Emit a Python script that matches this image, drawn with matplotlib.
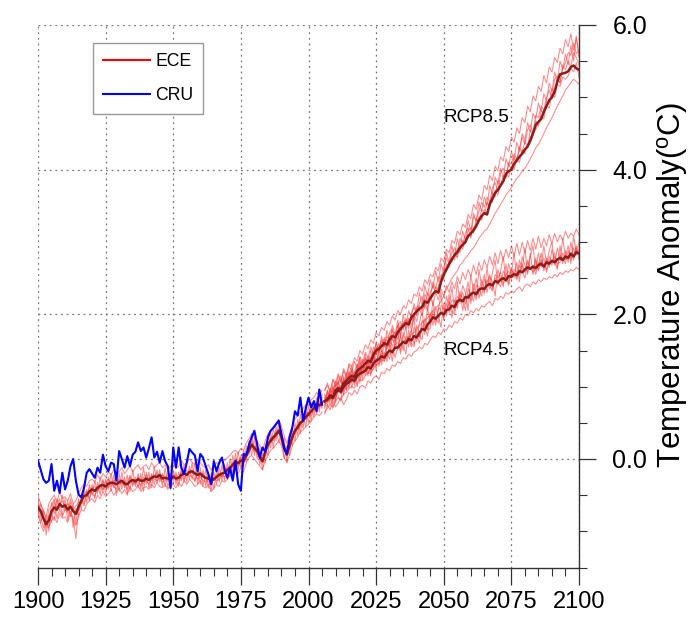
import numpy as np
import matplotlib
matplotlib.use("Agg")
import matplotlib.pyplot as plt
from matplotlib.ticker import MultipleLocator, FormatStrFormatter
from matplotlib.lines import Line2D

plt.rcParams['font.family'] = ['Liberation Sans', 'DejaVu Sans']
plt.rcParams['mathtext.fontset'] = 'custom'
plt.rcParams['mathtext.rm'] = 'Liberation Sans'

# ---------------- data ----------------
hist_years = list(range(1900, 2006))
cru_years = list(range(1900, 2006))
fut_years = list(range(2006, 2101))

cru = [-0.02,-0.15,-0.28,-0.33,-0.30,-0.07,-0.44,-0.30,-0.47,-0.19,
       -0.42,-0.30,-0.10,0.00,-0.30,-0.49,-0.53,-0.40,-0.19,-0.14,
       -0.20,-0.26,-0.12,-0.19,0.06,-0.10,-0.17,-0.05,-0.07,-0.30,
       0.11,0.00,-0.12,0.04,-0.10,0.06,0.10,0.23,0.11,0.16,
       0.02,0.15,0.30,0.02,0.10,-0.05,0.11,-0.03,-0.10,-0.40,
       0.16,-0.12,0.16,-0.12,-0.21,-0.05,0.14,0.09,0.05,-0.17,
       0.07,0.02,-0.10,-0.21,-0.35,-0.03,-0.17,-0.05,0.02,-0.15,
       -0.26,-0.12,-0.30,-0.03,-0.35,-0.44,0.07,0.05,0.20,0.30,
       0.39,0.20,0.02,0.16,0.10,0.30,0.39,0.43,0.48,0.53,
       0.34,0.15,0.07,0.30,0.43,0.66,0.60,0.85,0.53,0.70,
       0.85,0.71,0.80,0.66,0.96,0.75]

ece_hist_mean = [-0.67,-0.72,-0.82,-0.90,-0.85,-0.72,-0.67,-0.70,-0.62,-0.66,
       -0.64,-0.70,-0.66,-0.72,-0.76,-0.66,-0.58,-0.51,-0.50,-0.45,
       -0.42,-0.44,-0.40,-0.37,-0.36,-0.38,-0.34,-0.33,-0.33,-0.35,
       -0.32,-0.30,-0.34,-0.35,-0.31,-0.29,-0.31,-0.28,-0.30,-0.30,
       -0.27,-0.29,-0.26,-0.24,-0.25,-0.22,-0.27,-0.26,-0.27,-0.28,
       -0.24,-0.27,-0.26,-0.22,-0.20,-0.22,-0.18,-0.17,-0.20,-0.22,
       -0.20,-0.24,-0.26,-0.27,-0.30,-0.28,-0.25,-0.22,-0.20,-0.19,
       -0.15,-0.12,-0.08,-0.03,-0.06,-0.02,-0.03,0.05,0.12,0.20,
       0.15,0.11,0.03,-0.03,0.10,0.20,0.25,0.30,0.34,0.39,
       0.30,0.15,0.06,0.18,0.30,0.39,0.44,0.50,0.53,0.58,
       0.62,0.66,0.70,0.76,0.74,0.78]

ece_hist_m1 = [-0.55,-0.80,-0.95,-0.78,-1.00,-0.60,-0.75,-0.55,-0.70,-0.50,
       -0.72,-0.58,-0.80,-0.62,-0.90,-0.55,-0.70,-0.40,-0.60,-0.35,
       -0.50,-0.30,-0.48,-0.25,-0.45,-0.28,-0.42,-0.20,-0.40,-0.25,
       -0.45,-0.18,-0.40,-0.22,-0.45,-0.15,-0.38,-0.20,-0.42,-0.12,
       -0.35,-0.18,-0.40,-0.10,-0.33,-0.15,-0.38,-0.12,-0.40,-0.20,
       -0.15,-0.35,-0.18,-0.30,-0.08,-0.32,-0.10,-0.28,-0.05,-0.35,
       -0.12,-0.38,-0.15,-0.40,-0.20,-0.42,-0.15,-0.32,-0.08,-0.30,
       -0.05,-0.25,0.05,-0.15,0.10,-0.12,0.12,-0.05,0.25,0.05,
       0.30,0.00,0.15,-0.15,0.20,0.05,0.38,0.15,0.45,0.22,
       0.40,0.00,0.18,0.05,0.42,0.25,0.55,0.35,0.62,0.45,
       0.75,0.52,0.80,0.62,0.88,0.70]
ece_hist_m2 = [-0.80,-0.62,-0.75,-1.05,-0.78,-0.88,-0.58,-0.82,-0.70,-0.78,
       -0.55,-0.85,-0.60,-0.95,-0.68,-0.78,-0.50,-0.62,-0.42,-0.58,
       -0.35,-0.55,-0.32,-0.50,-0.28,-0.48,-0.25,-0.45,-0.22,-0.50,
       -0.20,-0.42,-0.25,-0.48,-0.22,-0.38,-0.25,-0.40,-0.20,-0.45,
       -0.18,-0.40,-0.20,-0.35,-0.15,-0.32,-0.20,-0.38,-0.15,-0.42,
       -0.30,-0.18,-0.38,-0.12,-0.32,-0.15,-0.28,-0.05,-0.32,-0.10,
       -0.35,-0.15,-0.38,-0.20,-0.45,-0.18,-0.35,-0.12,-0.30,-0.08,
       -0.28,0.00,-0.20,0.08,-0.15,0.05,-0.10,0.18,0.05,0.35,
       0.05,0.25,-0.08,0.08,-0.05,0.32,0.15,0.42,0.25,0.50,
       0.20,0.30,-0.05,0.30,0.18,0.50,0.32,0.62,0.42,0.70,
       0.50,0.78,0.58,0.85,0.65,0.90]
ece_hist_m3 = [-0.70,-0.88,-0.70,-0.85,-0.92,-0.78,-0.85,-0.62,-0.55,-0.80,
       -0.70,-0.62,-0.78,-0.80,-1.10,-0.70,-0.55,-0.65,-0.50,-0.40,
       -0.48,-0.52,-0.38,-0.42,-0.30,-0.40,-0.38,-0.30,-0.38,-0.42,
       -0.28,-0.35,-0.30,-0.42,-0.28,-0.35,-0.28,-0.32,-0.36,-0.25,
       -0.30,-0.35,-0.22,-0.28,-0.30,-0.25,-0.32,-0.30,-0.22,-0.30,
       -0.28,-0.22,-0.30,-0.25,-0.28,-0.20,-0.22,-0.25,-0.30,-0.18,
       -0.25,-0.30,-0.32,-0.22,-0.35,-0.25,-0.30,-0.28,-0.22,-0.25,
       -0.18,-0.10,-0.12,0.00,-0.10,-0.05,0.00,0.10,0.15,0.15,
       0.18,0.15,0.00,-0.05,0.12,0.15,0.30,0.25,0.38,0.35,
       0.32,0.10,0.12,0.22,0.28,0.42,0.40,0.45,0.58,0.55,
       0.60,0.68,0.65,0.80,0.70,0.85]
ece_hist_m4 = [-0.60,-0.70,-0.85,-0.95,-0.70,-0.65,-0.55,-0.72,-0.60,-0.58,
       -0.68,-0.75,-0.55,-0.70,-0.65,-0.60,-0.62,-0.48,-0.45,-0.55,
       -0.40,-0.38,-0.45,-0.35,-0.42,-0.32,-0.28,-0.38,-0.30,-0.28,
       -0.35,-0.30,-0.38,-0.30,-0.25,-0.32,-0.35,-0.25,-0.28,-0.35,
       -0.22,-0.25,-0.30,-0.22,-0.20,-0.28,-0.22,-0.25,-0.30,-0.22,
       -0.20,-0.30,-0.25,-0.18,-0.25,-0.22,-0.15,-0.20,-0.18,-0.28,
       -0.22,-0.20,-0.28,-0.32,-0.25,-0.30,-0.22,-0.20,-0.25,-0.15,
       -0.12,-0.15,-0.05,-0.08,-0.02,0.02,-0.05,0.02,0.15,0.25,
       0.10,0.15,0.08,0.00,0.05,0.22,0.28,0.32,0.30,0.42,
       0.35,0.20,0.10,0.15,0.35,0.35,0.48,0.52,0.50,0.62,
       0.65,0.60,0.75,0.72,0.80,0.72]
ece_hist_m5 = [-0.78,-0.90,-1.00,-0.88,-0.95,-0.85,-0.80,-0.88,-0.75,-0.82,
       -0.80,-0.88,-0.72,-0.85,-0.92,-0.80,-0.70,-0.72,-0.62,-0.58,
       -0.55,-0.60,-0.50,-0.55,-0.45,-0.52,-0.48,-0.42,-0.50,-0.45,
       -0.40,-0.48,-0.42,-0.50,-0.38,-0.45,-0.42,-0.36,-0.45,-0.40,
       -0.38,-0.42,-0.35,-0.40,-0.32,-0.38,-0.40,-0.35,-0.42,-0.36,
       -0.35,-0.40,-0.32,-0.38,-0.30,-0.35,-0.28,-0.32,-0.38,-0.35,
       -0.30,-0.38,-0.40,-0.35,-0.45,-0.40,-0.35,-0.38,-0.30,-0.32,
       -0.28,-0.22,-0.25,-0.15,-0.20,-0.12,-0.18,-0.05,0.02,0.05,
       0.00,-0.05,-0.10,-0.15,-0.02,0.05,0.12,0.15,0.20,0.25,
       0.18,0.02,-0.05,0.05,0.18,0.25,0.30,0.38,0.40,0.45,
       0.48,0.52,0.58,0.62,0.60,0.65]
ece_hist_m6 = [-0.50,-0.62,-0.72,-0.80,-0.62,-0.55,-0.50,-0.60,-0.45,-0.55,
       -0.52,-0.58,-0.48,-0.62,-0.58,-0.48,-0.40,-0.35,-0.38,-0.30,
       -0.28,-0.32,-0.22,-0.28,-0.20,-0.25,-0.18,-0.22,-0.15,-0.22,
       -0.18,-0.12,-0.20,-0.15,-0.10,-0.18,-0.12,-0.08,-0.15,-0.10,
       -0.08,-0.15,-0.05,-0.12,-0.08,-0.05,-0.12,-0.08,-0.15,-0.10,
       -0.05,-0.12,-0.10,-0.02,-0.08,-0.05,0.00,-0.05,-0.08,-0.02,
       -0.05,-0.10,-0.12,-0.08,-0.15,-0.10,-0.05,-0.08,0.00,-0.02,
       0.02,0.05,0.10,0.12,0.08,0.15,0.12,0.22,0.28,0.35,
       0.30,0.25,0.18,0.12,0.25,0.35,0.40,0.45,0.50,0.55,
       0.45,0.32,0.22,0.35,0.45,0.55,0.60,0.65,0.70,0.75,
       0.78,0.82,0.85,0.92,0.88,0.95]

rcp45_mean = [0.80,0.82,0.86,0.84,0.92,0.95,0.93,1.00,1.04,1.06,
       1.10,1.08,1.15,1.18,1.20,1.22,1.27,1.25,1.32,1.36,
       1.38,1.42,1.40,1.46,1.50,1.48,1.54,1.54,1.58,1.62,
       1.60,1.66,1.64,1.70,1.68,1.74,1.80,1.78,1.86,1.90,
       1.96,1.94,1.98,2.02,2.00,2.06,2.07,2.12,2.10,2.18,
       2.20,2.18,2.24,2.23,2.28,2.30,2.28,2.34,2.36,2.35,
       2.40,2.42,2.40,2.46,2.44,2.48,2.50,2.47,2.53,2.52,
       2.56,2.54,2.60,2.58,2.62,2.65,2.63,2.66,2.64,2.68,
       2.70,2.66,2.72,2.70,2.74,2.72,2.76,2.78,2.75,2.80,
       2.78,2.84,2.80,2.86,2.84]
rcp45_m1 = [0.70,0.92,0.80,1.02,0.78,1.05,1.10,0.88,1.15,0.98,
       1.25,1.02,1.12,1.35,1.10,1.40,1.18,1.30,1.48,1.22,
       1.55,1.35,1.62,1.45,1.38,1.70,1.52,1.78,1.45,1.68,
       1.82,1.55,1.75,1.95,1.62,1.88,2.05,1.72,2.10,1.85,
       2.20,1.90,2.05,2.30,1.92,2.25,2.10,2.38,2.05,2.45,
       2.15,2.40,2.30,2.05,2.55,2.32,2.20,2.62,2.40,2.28,
       2.65,2.35,2.58,2.75,2.40,2.60,2.80,2.45,2.70,2.55,
       2.85,2.50,2.75,2.62,2.92,2.55,2.80,2.95,2.60,2.85,
       2.65,2.95,2.70,2.88,3.00,2.68,2.92,2.75,3.05,2.80,
       2.95,2.70,3.08,2.85,3.00]
rcp45_m2 = [0.85,0.72,0.95,0.90,1.05,0.85,0.80,1.12,0.95,1.20,
       0.98,1.15,1.30,1.05,1.28,1.15,1.38,1.20,1.25,1.50,
       1.28,1.52,1.40,1.60,1.55,1.35,1.65,1.50,1.72,1.58,
       1.45,1.78,1.60,1.55,1.85,1.70,1.65,1.95,1.80,2.02,
       1.85,2.10,1.98,1.82,2.15,2.00,2.28,1.95,2.20,2.12,
       2.32,2.05,2.25,2.45,2.15,2.35,2.50,2.22,2.38,2.55,
       2.30,2.52,2.45,2.25,2.62,2.50,2.38,2.70,2.42,2.65,
       2.50,2.72,2.45,2.80,2.68,2.58,2.85,2.55,2.75,2.62,
       2.85,2.60,2.78,2.65,2.90,2.72,2.62,2.95,2.70,2.88,
       2.72,3.00,2.78,2.95,2.75]
rcp45_m3 = [0.78,0.95,0.75,0.82,1.00,1.08,0.90,0.98,1.10,1.15,
       1.05,1.20,1.00,1.22,1.35,1.25,1.15,1.40,1.28,1.32,
       1.45,1.30,1.48,1.35,1.62,1.58,1.40,1.55,1.68,1.50,
       1.70,1.62,1.80,1.58,1.72,1.60,1.85,1.82,1.70,1.98,
       2.00,1.85,2.10,2.05,1.95,2.15,2.02,2.20,2.18,2.08,
       2.28,2.22,2.05,2.35,2.30,2.18,2.40,2.38,2.25,2.48,
       2.42,2.55,2.35,2.50,2.45,2.38,2.60,2.52,2.40,2.62,
       2.55,2.48,2.68,2.60,2.50,2.72,2.65,2.58,2.78,2.60,
       2.75,2.68,2.62,2.80,2.72,2.85,2.65,2.82,2.78,2.70,
       2.88,2.75,2.92,2.82,2.90]
rcp45_m4 = [0.88,0.80,0.90,0.70,0.85,1.00,0.92,1.05,0.95,1.02,
       1.18,1.10,1.22,1.12,1.30,1.25,1.35,1.15,1.42,1.38,
       1.32,1.48,1.35,1.55,1.60,1.45,1.58,1.62,1.50,1.75,
       1.62,1.70,1.55,1.82,1.75,1.68,1.92,1.85,1.78,1.80,
       2.05,1.95,1.88,2.12,2.08,1.98,2.18,2.05,2.00,2.25,
       2.20,2.30,2.15,2.28,2.20,2.42,2.25,2.30,2.48,2.32,
       2.48,2.40,2.32,2.55,2.50,2.58,2.42,2.55,2.60,2.48,
       2.62,2.58,2.55,2.70,2.58,2.75,2.62,2.68,2.55,2.72,
       2.68,2.78,2.58,2.75,2.68,2.80,2.70,2.72,2.85,2.75,
       2.80,2.85,2.75,2.92,2.82]
rcp45_m5 = [0.62,0.75,0.68,0.80,0.72,0.78,0.85,0.75,0.82,0.92,
       0.88,0.95,0.90,1.00,1.02,0.98,1.08,1.05,1.12,1.15,
       1.10,1.20,1.18,1.25,1.22,1.30,1.28,1.35,1.32,1.40,
       1.38,1.45,1.42,1.48,1.50,1.55,1.52,1.60,1.58,1.65,
       1.70,1.68,1.75,1.72,1.80,1.78,1.85,1.82,1.90,1.88,
       1.95,1.92,2.00,1.98,2.05,2.02,2.08,2.05,2.12,2.10,
       2.15,2.18,2.12,2.22,2.20,2.25,2.22,2.30,2.28,2.32,
       2.30,2.35,2.38,2.32,2.40,2.42,2.38,2.45,2.42,2.48,
       2.45,2.50,2.48,2.52,2.50,2.55,2.52,2.58,2.55,2.60,
       2.58,2.62,2.60,2.65,2.62]
rcp45_m6 = [0.95,1.05,0.92,1.10,1.00,1.15,1.05,1.22,1.12,1.30,
       1.20,1.35,1.25,1.42,1.32,1.48,1.40,1.55,1.45,1.60,
       1.52,1.65,1.55,1.70,1.62,1.78,1.68,1.85,1.72,1.90,
       1.80,1.95,1.85,2.00,1.90,2.08,1.98,2.15,2.05,2.25,
       2.12,2.30,2.20,2.35,2.25,2.40,2.30,2.45,2.35,2.52,
       2.42,2.58,2.48,2.62,2.52,2.68,2.55,2.72,2.60,2.75,
       2.65,2.80,2.68,2.85,2.70,2.88,2.75,2.90,2.78,2.95,
       2.80,2.98,2.82,3.00,2.85,3.02,2.88,3.05,2.90,3.08,
       2.92,3.05,2.95,3.10,2.98,3.12,3.00,3.10,3.02,3.15,
       3.05,3.12,3.08,3.18,3.10]

rcp85_mean = [0.80,0.83,0.88,0.86,0.95,0.98,0.96,1.05,1.08,1.12,
       1.15,1.13,1.22,1.25,1.28,1.32,1.36,1.34,1.44,1.50,
       1.52,1.56,1.60,1.58,1.65,1.70,1.68,1.75,1.80,1.84,
       1.88,1.86,1.95,2.00,2.04,2.08,2.10,2.18,2.16,2.22,
       2.28,2.32,2.30,2.45,2.55,2.62,2.70,2.76,2.82,2.86,
       2.92,2.96,3.00,3.08,3.12,3.16,3.22,3.30,3.36,3.40,
       3.38,3.52,3.60,3.68,3.72,3.78,3.84,3.94,3.98,4.00,
       4.08,4.13,4.18,4.22,4.28,4.32,4.40,4.50,4.62,4.66,
       4.70,4.80,4.88,4.96,5.00,5.08,5.22,5.32,5.33,5.34,
       5.36,5.42,5.44,5.40,5.38]
rcp85_m1 = [0.72,0.95,0.85,1.00,0.82,1.08,1.15,0.92,1.20,1.05,
       1.30,1.08,1.20,1.40,1.18,1.45,1.28,1.50,1.38,1.62,
       1.45,1.70,1.55,1.78,1.62,1.85,1.72,1.92,1.68,2.00,
       1.82,2.05,1.95,2.15,2.02,2.30,2.12,2.40,2.25,2.48,
       2.35,2.60,2.45,2.70,2.58,2.85,2.72,2.95,2.80,3.05,
       2.90,3.15,3.02,3.30,3.15,3.40,3.28,3.55,3.42,3.62,
       3.50,3.78,3.65,3.90,3.80,4.02,3.88,4.15,4.05,4.25,
       4.12,4.38,4.25,4.50,4.40,4.65,4.52,4.78,4.70,4.92,
       4.80,5.05,4.95,5.20,5.08,5.35,5.22,5.50,5.38,5.60,
       5.45,5.72,5.50,5.85,5.55]
rcp85_m2 = [0.90,0.78,0.98,0.92,1.08,0.95,0.90,1.15,1.02,1.22,
       1.08,1.20,1.32,1.18,1.38,1.25,1.42,1.30,1.55,1.45,
       1.60,1.48,1.68,1.55,1.75,1.80,1.62,1.85,1.90,1.78,
       1.95,1.85,2.02,2.10,1.98,2.15,2.25,2.08,2.30,2.22,
       2.45,2.35,2.52,2.48,2.65,2.78,2.70,2.85,2.92,2.80,
       3.05,2.98,3.12,3.20,3.05,3.35,3.30,3.42,3.55,3.48,
       3.62,3.55,3.75,3.82,3.70,3.95,4.02,3.90,4.10,4.08,
       4.22,4.15,4.30,4.45,4.35,4.55,4.62,4.50,4.75,4.72,
       4.88,4.82,5.00,5.10,4.98,5.25,5.30,5.20,5.45,5.38,
       5.50,5.42,5.62,5.55,5.45]
rcp85_m3 = [0.75,0.88,0.92,0.80,1.02,1.05,0.98,1.00,1.12,1.08,
       1.22,1.15,1.12,1.30,1.35,1.38,1.32,1.40,1.48,1.45,
       1.50,1.62,1.58,1.65,1.55,1.72,1.75,1.65,1.82,1.88,
       1.85,1.92,1.80,1.98,2.08,2.05,2.12,2.22,2.10,2.20,
       2.25,2.38,2.28,2.42,2.55,2.60,2.68,2.72,2.85,2.78,
       2.95,2.90,3.05,3.10,3.08,3.20,3.25,3.35,3.30,3.45,
       3.40,3.58,3.55,3.72,3.65,3.80,3.82,3.95,3.90,4.05,
       4.00,4.15,4.10,4.28,4.22,4.35,4.45,4.52,4.55,4.65,
       4.75,4.70,4.90,4.85,5.05,5.00,5.18,5.15,5.28,5.25,
       5.30,5.40,5.35,5.48,5.28]
rcp85_m4 = [0.85,0.80,0.82,0.95,0.88,0.92,1.02,1.10,0.98,1.18,
       1.12,1.05,1.25,1.20,1.28,1.22,1.35,1.40,1.35,1.55,
       1.48,1.58,1.65,1.52,1.70,1.65,1.62,1.78,1.85,1.82,
       1.92,1.80,2.00,1.92,2.10,2.12,2.05,2.28,2.20,2.30,
       2.40,2.30,2.38,2.55,2.48,2.70,2.65,2.80,2.75,2.92,
       2.85,3.02,2.98,3.15,3.20,3.12,3.32,3.28,3.45,3.38,
       3.55,3.48,3.68,3.62,3.85,3.78,3.92,3.88,4.08,4.00,
       4.18,4.10,4.32,4.22,4.40,4.30,4.55,4.48,4.68,4.60,
       4.82,4.78,4.95,4.92,5.12,5.05,5.25,5.20,5.40,5.48,
       5.62,5.58,5.75,5.60,5.65]
rcp85_m5 = [0.65,0.70,0.75,0.72,0.80,0.85,0.82,0.90,0.92,0.98,
       1.00,0.98,1.05,1.10,1.08,1.15,1.20,1.18,1.25,1.30,
       1.32,1.38,1.35,1.42,1.45,1.48,1.52,1.55,1.58,1.62,
       1.65,1.68,1.72,1.75,1.80,1.85,1.88,1.92,1.95,2.00,
       2.05,2.10,2.12,2.18,2.25,2.35,2.42,2.50,2.55,2.60,
       2.68,2.72,2.78,2.82,2.88,2.92,2.98,3.05,3.10,3.15,
       3.18,3.25,3.32,3.40,3.45,3.52,3.58,3.65,3.70,3.75,
       3.82,3.88,3.92,3.98,4.02,4.08,4.15,4.22,4.30,4.35,
       4.42,4.50,4.58,4.65,4.72,4.80,4.88,4.95,5.02,5.10,
       5.15,5.20,5.25,5.22,5.18]
rcp85_m6 = [0.95,1.02,0.92,1.10,1.05,1.18,1.08,1.25,1.15,1.32,
       1.28,1.40,1.35,1.50,1.45,1.58,1.52,1.65,1.60,1.75,
       1.70,1.82,1.78,1.90,1.85,1.98,1.92,2.05,2.00,2.12,
       2.08,2.20,2.15,2.28,2.25,2.38,2.32,2.48,2.42,2.55,
       2.52,2.65,2.60,2.78,2.72,2.90,2.85,3.02,2.98,3.15,
       3.10,3.25,3.20,3.38,3.32,3.52,3.45,3.65,3.58,3.78,
       3.72,3.92,3.85,4.05,3.98,4.18,4.12,4.32,4.25,4.45,
       4.38,4.58,4.50,4.72,4.65,4.88,4.80,5.02,4.95,5.15,
       5.08,5.30,5.20,5.42,5.35,5.55,5.48,5.68,5.60,5.80,
       5.70,5.88,5.65,5.82,5.60]

x_ticks = [1900, 1925, 1950, 1975, 2000, 2025, 2050, 2075, 2100]
y_ticks = [0.0, 2.0, 4.0, 6.0]
legend_labels = ["ECE", "CRU"]
scenario_labels = ["RCP8.5", "RCP4.5"]
ylabel_text = "Temperature Anomaly($\\mathregular{^{o}}$C)"

hist_members = [ece_hist_m1, ece_hist_m2, ece_hist_m3, ece_hist_m4, ece_hist_m5, ece_hist_m6]
fut_members = [rcp45_m1, rcp45_m2, rcp45_m3, rcp45_m4, rcp45_m5, rcp45_m6,
               rcp85_m1, rcp85_m2, rcp85_m3, rcp85_m4, rcp85_m5, rcp85_m6]

# ---------------- figure ----------------
fig = plt.figure(figsize=(6.93, 6.19), dpi=100)
ax = fig.add_axes([38/693, 1-567.5/619, (579-38)/693, (567.5-25)/619])

member_color = '#ff3c3c'
mean_color = '#8b1c1c'

for m in hist_members:
    assert len(m) == len(hist_years)
    ax.plot(hist_years, m, color=member_color, lw=0.75, alpha=0.6, zorder=2)
for m in fut_members:
    assert len(m) == len(fut_years)
    ax.plot(fut_years, m, color=member_color, lw=0.75, alpha=0.6, zorder=2)

ax.plot(hist_years, ece_hist_mean, color=mean_color, lw=1.8, zorder=3)
ax.plot(fut_years, rcp45_mean, color=mean_color, lw=1.8, zorder=3)
ax.plot(fut_years, rcp85_mean, color=mean_color, lw=1.8, zorder=3)
ax.plot(cru_years, cru, color='#0000ff', lw=1.5, zorder=4)

ax.set_xlim(1900, 2100)
ax.set_ylim(-1.5, 6.0)

ax.xaxis.set_minor_locator(MultipleLocator(5))
ax.yaxis.set_minor_locator(MultipleLocator(0.5))
ax.set_xticks(x_ticks)
ax.set_yticks(y_ticks)
ax.yaxis.set_major_formatter(FormatStrFormatter('%.1f'))

ax.yaxis.tick_right()
ax.tick_params(axis='both', which='major', direction='out', length=12, width=0.9,
               color='#333333')
ax.tick_params(axis='both', which='minor', direction='out', length=6, width=0.8,
               color='#333333')
ax.tick_params(axis='x', which='major', pad=5, labelsize=17)
ax.tick_params(axis='y', which='major', pad=12, labelsize=18)

for s in ('top', 'left'):
    ax.spines[s].set_visible(False)
for s in ('right', 'bottom'):
    ax.spines[s].set_color('#333333')
    ax.spines[s].set_linewidth(1.0)

ax.grid(True, which='major', linestyle=(0, (1.5, 3)), color='#777777', lw=0.9)
ax.set_axisbelow(True)

ylab = ax.set_ylabel(ylabel_text, fontsize=22.5)
ax.yaxis.set_label_position('right')
ax.yaxis.set_label_coords(1.172, 0.521)
ylab.set_horizontalalignment('center')
ylab.set_verticalalignment('center')

ax.text(2062, 4.72, scenario_labels[0], fontsize=13.5, ha='center', va='center')
ax.text(2062, 1.50, scenario_labels[1], fontsize=13.5, ha='center', va='center')

handles = [Line2D([], [], color='#ff0000', lw=1.5), Line2D([], [], color='#0000ff', lw=1.5)]
leg = ax.legend(handles, legend_labels, loc='upper left',
                bbox_to_anchor=((93-38)/(579-38), (567.5-43)/(567.5-25)),
                borderaxespad=0, fontsize=12.7, handlelength=2.7, handletextpad=0.3,
                labelspacing=1.0, borderpad=0.55, fancybox=False, framealpha=1)
leg.get_frame().set_edgecolor('#999999')
leg.get_frame().set_linewidth(1.0)

fig.savefig('out.png', dpi=100)
